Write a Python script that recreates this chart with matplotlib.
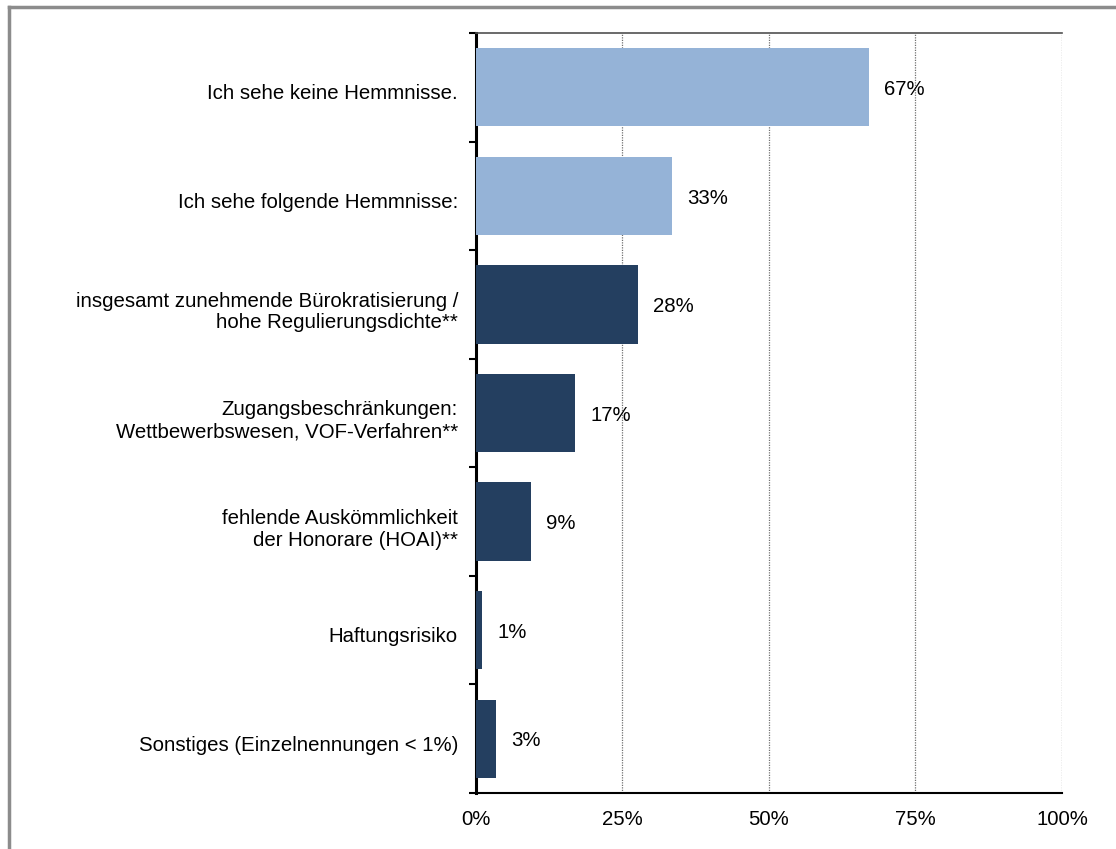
import numpy as np
import matplotlib
matplotlib.use("Agg")
import matplotlib.pyplot as plt
from matplotlib.lines import Line2D

plt.rcParams['font.family'] = ['Liberation Sans', 'DejaVu Sans']

categories = [
    "Ich sehe keine Hemmnisse.",
    "Ich sehe folgende Hemmnisse:",
    "insgesamt zunehmende Bürokratisierung /\nhohe Regulierungsdichte**",
    "Zugangsbeschränkungen:\nWettbewerbswesen, VOF-Verfahren**",
    "fehlende Auskömmlichkeit\nder Honorare (HOAI)**",
    "Haftungsrisiko",
    "Sonstiges (Einzelnennungen < 1%)",
]
values = [67.0, 33.4, 27.6, 16.9, 9.4, 1.0, 3.4]
labels = ["67%", "33%", "28%", "17%", "9%", "1%", "3%"]
light = "#95B3D7"
dark = "#243F60"
colors = [light, light, dark, dark, dark, dark, dark]
xticks = [0, 25, 50, 75, 100]

fs = 14.7

fig = plt.figure(figsize=(11.16, 8.49), dpi=100)
ax = fig.add_axes([0.4265, 0.066, 0.5251, 0.8951])

y = np.arange(len(categories))
ax.barh(y, values, height=0.72, color=colors, zorder=3)
ax.set_ylim(len(categories) - 0.5, -0.5)
ax.set_xlim(0, 100)

for yi, v, lab in zip(y, values, labels):
    ax.text(v + 2.6, yi + 0.02, lab, va='center', ha='left', fontsize=fs, zorder=4)

ax.set_xticks(xticks)
ax.set_xticklabels([f"{t}%" for t in xticks], fontsize=fs)
ax.tick_params(axis='x', length=0, pad=12)

ax.set_yticks(y + 0.04)
ax.set_yticklabels(categories, fontsize=fs, ha='right', linespacing=1.18)
ax.tick_params(axis='y', which='major', length=0, pad=13)
ax.set_yticks(np.arange(len(categories) + 1) - 0.5, minor=True)
ax.tick_params(axis='y', which='minor', length=5, width=1.5, direction='out')

for t in xticks[1:]:
    ax.axvline(t, color='#707070', linestyle=(0, (1, 1)), linewidth=0.9, zorder=1)

ax.spines['left'].set_linewidth(2.2)
ax.spines['left'].set_color('black')
ax.spines['bottom'].set_linewidth(1.5)
ax.spines['bottom'].set_color('black')
ax.spines['top'].set_color('#505050')
ax.spines['top'].set_linewidth(1.2)
ax.spines['right'].set_visible(False)

# figure frame (top and left only visible)
fig.add_artist(Line2D([9 / 1116, 1], [1 - 7 / 849, 1 - 7 / 849], color='#8c8c8c', linewidth=2.5))
fig.add_artist(Line2D([9 / 1116, 9 / 1116], [0, 1 - 7 / 849], color='#8c8c8c', linewidth=2.5))

fig.savefig("out.png", dpi=100)
